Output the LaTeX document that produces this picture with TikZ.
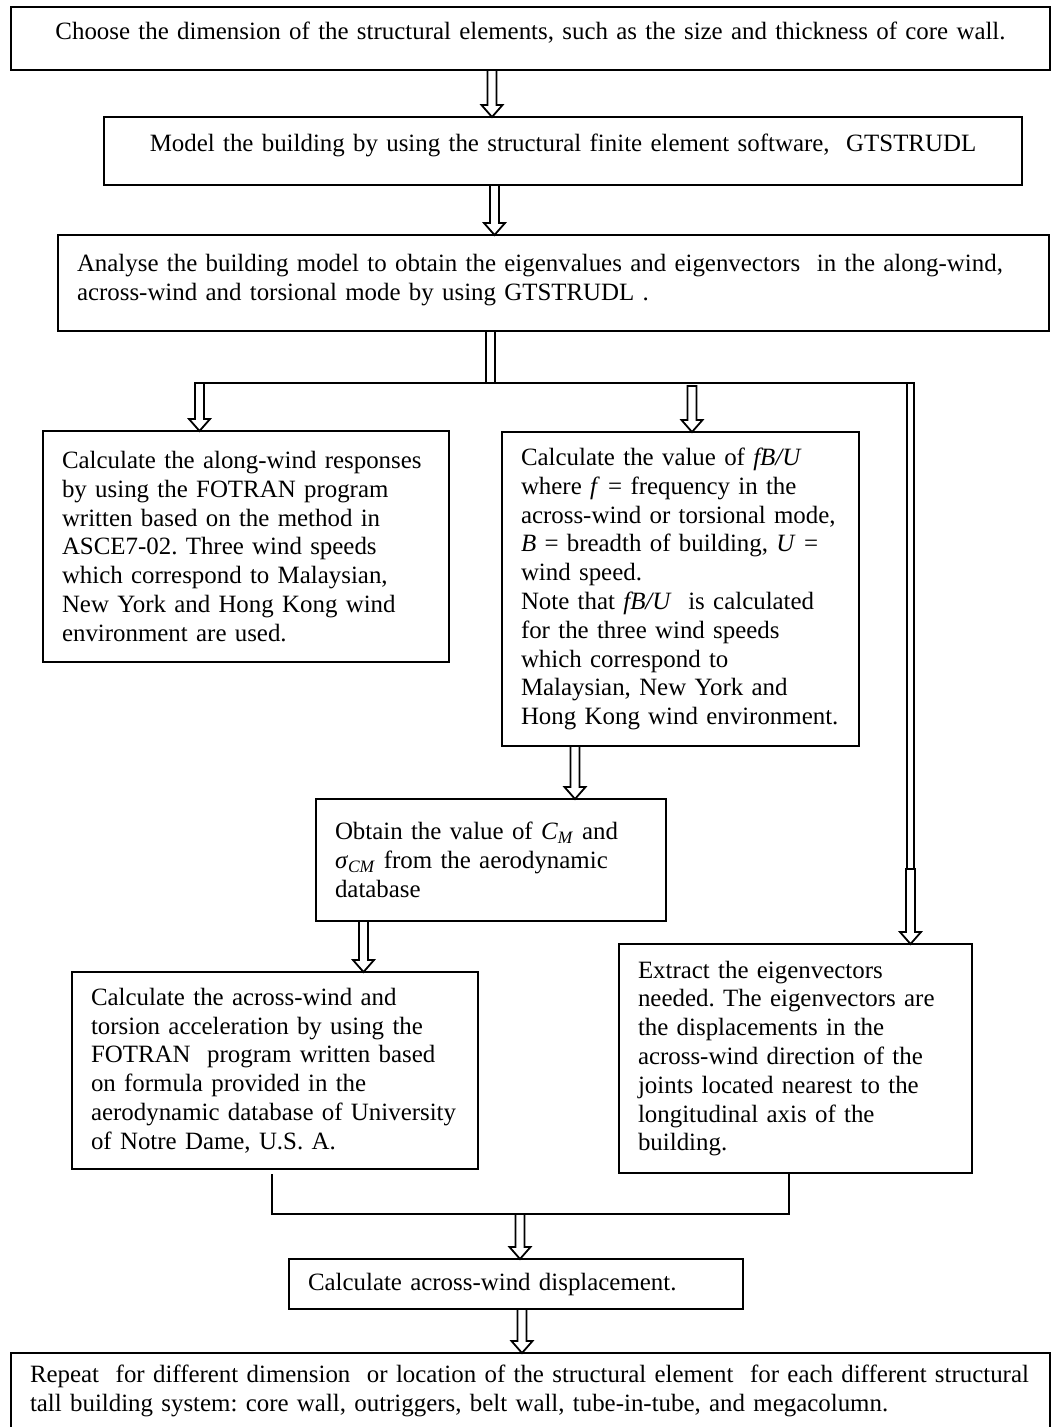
\documentclass[tikz,border=0pt]{standalone}
\usepackage{fontspec}
\setmainfont{Liberation Serif}
\usetikzlibrary{positioning,calc}
\frenchspacing

\begin{document}
\begin{tikzpicture}[x=1pt, y=-1pt,
  box/.style={draw, black, line width=1.8pt, anchor=north west, outer sep=0pt, inner xsep=19pt, inner ysep=0pt, align=left, font=\fontsize{24.9}{28.8}\selectfont},
  hollowarrow/.style={black, line width=1.8pt, to path={let \p1=(\tikztostart), \p2=(\tikztotarget) in (\x1-4.5pt,\y1) -- (\x1-4.5pt,\y2+12pt) -- (\x1-10.5pt,\y2+12pt) -- (\x1,\y2) -- (\x1+10.5pt,\y2+12pt) -- (\x1+4.5pt,\y2+12pt) -- (\x1+4.5pt,\y1) -- cycle}},
  hollowshaft/.style={black, line width=1.8pt, to path={let \p1=(\tikztostart), \p2=(\tikztotarget) in (\x1-#1,\y1) rectangle (\x1+#1,\y2)}},
  hollowshaft/.default=4.5pt]
\useasboundingbox (0,0) rectangle (1053,1427);
\clip (0,0) rectangle (1053,1427);
\node[box, align=center, text width=1001pt, minimum width=1039pt, minimum height=63pt] (choose) at (11,7) {Choose the dimension of the structural elements, such as the size and thickness of core wall.\rule[-16pt]{0pt}{0pt}};
\node[box, align=center, text width=880pt, minimum width=918pt, minimum height=68pt] (model) at (104,117) {Model the building by using the structural finite element software,\ \ GTSTRUDL\rule[-17pt]{0pt}{0pt}};
\node[box, text width=953pt, minimum width=991pt, minimum height=96pt] (analyse) at (58,235) {Analyse the building model to obtain the eigenvalues and eigenvectors\ \ in the along-wind,\\across-wind and torsional mode by using GTSTRUDL .\rule[-12pt]{0pt}{0pt}};
\node[box, text width=368pt, minimum height=231pt] (along) at (43,431) {Calculate the along-wind responses\\by using the FOTRAN program\\written based on the method in\\ASCE7-02. Three wind speeds\\which correspond to Malaysian,\\New York and Hong Kong wind\\environment are used.};
\node[box, text width=319pt, minimum height=314pt] (fbu) at (502,432) {Calculate the value of \textit{fB/U}\\where \textit{f} = frequency in the\\across-wind or torsional mode,\\\textit{B} = breadth of building, \textit{U} =\\wind speed.\\Note that \textit{fB/U}\ \ is calculated\\for the three wind speeds\\which correspond to\\Malaysian, New York and\\Hong Kong wind environment.};
\node[box, text width=312pt, minimum height=122pt] (cm) at (316,799) {Obtain the value of \textit{C}\textsubscript{\textit{M}} and\\\textit{σ}\textsubscript{\textit{CM}} from the aerodynamic\\database};
\node[box, text width=368pt, minimum height=197pt] (across) at (72,972) {Calculate the across-wind and\\torsion acceleration by using the\\FOTRAN\ \ program written based\\on formula provided in the\\aerodynamic database of University\\of Notre Dame, U.S. A.};
\node[box, text width=315pt, minimum height=229pt] (extract) at (619,944) {Extract the eigenvectors\\needed. The eigenvectors are\\the displacements in the\\across-wind direction of the\\joints located nearest to the\\longitudinal axis of the\\building.};
\node[box, text width=416pt, minimum height=50pt] (disp) at (289,1259) {Calculate across-wind displacement.};
\node[box, text width=1001pt, inner ysep=12pt] (repeat) at (11,1353) {Repeat\ \ for different dimension\ \ or location of the structural element\ \ for each different structural\\tall building system: core wall, outriggers, belt wall, tube-in-tube, and megacolumn.\rule[-70pt]{0pt}{0pt}};
\coordinate (forkL) at (199.5,383);
\coordinate (forkM) at (692,386);
\coordinate (forkR) at (910.5,383);
\coordinate (bend) at (910.5,869);
\coordinate (join) at (520,1214);
\draw[hollowarrow] ([xshift=-38.5pt]choose.south) to (model.north);
\draw[hollowarrow] ([xshift=-68.5pt]model.south) to (analyse.north);
\draw[hollowshaft] ([xshift=-63pt]analyse.south) to (forkL);
\draw[black, line width=1.8pt] ([xshift=-4.5pt]forkL) -- ([xshift=4.5pt]forkR);
\draw[hollowarrow] (forkL) to (along.north);
\draw[hollowarrow] (forkM) to (fbu.north);
\draw[hollowshaft=3.5pt] (forkR) to (bend);
\draw[hollowarrow] (bend) to (extract.north);
\draw[hollowarrow] ([xshift=-105.5pt]fbu.south) to (cm.north);
\draw[hollowarrow] ([xshift=-127.5pt]cm.south) to (across.north);
\draw[black, line width=1.8pt] ([xshift=-3pt,yshift=-5pt]across.south) |- (join) -| ([xshift=-6.5pt]extract.south);
\draw[hollowarrow] (join) to (disp.north);
\draw[hollowarrow] ([xshift=6pt]disp.south) to (repeat.north);
\end{tikzpicture}
\end{document}
